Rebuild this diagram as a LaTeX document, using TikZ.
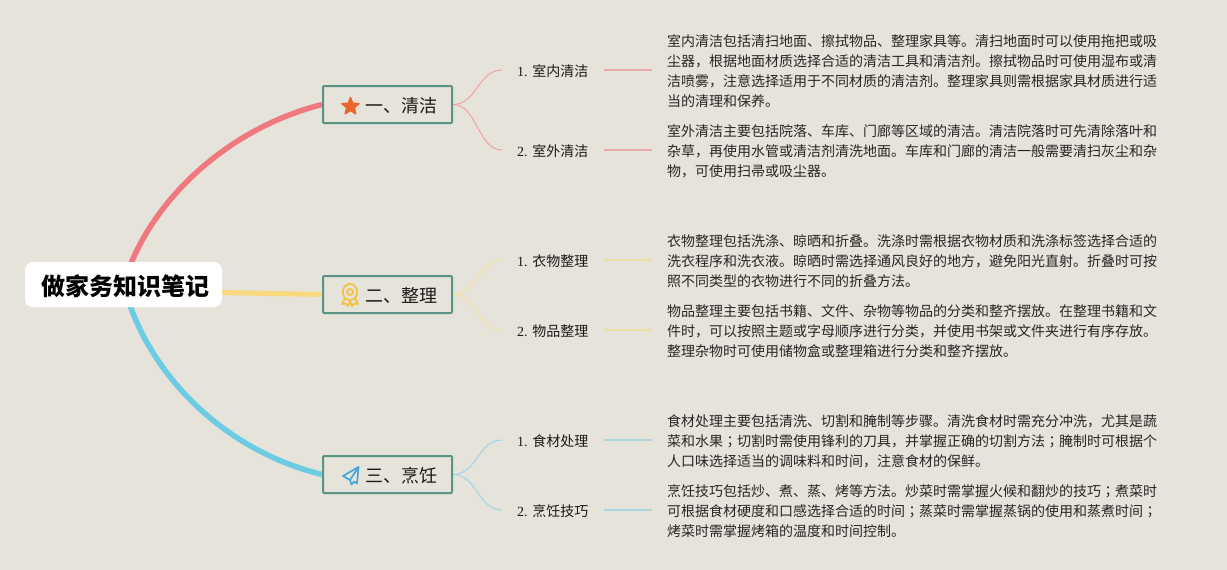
\documentclass[tikz,border=0pt]{standalone}
\usepackage{fontspec}
\setmainfont{Liberation Serif}
\newfontfamily\cjk{Noto Sans CJK SC}
\newfontfamily\cjktc{Noto Sans CJK TC}
\usetikzlibrary{shapes.geometric}
\definecolor{paper}{HTML}{E6E3DA}
\definecolor{teal}{HTML}{5A9485}
\definecolor{redb}{HTML}{F0797F}
\definecolor{yelb}{HTML}{FAD97E}
\definecolor{blub}{HTML}{6CCCE3}
\definecolor{redt}{HTML}{EFA0A3}
\definecolor{yelt}{HTML}{F7DFA0}
\definecolor{blut}{HTML}{9AD6E4}
\definecolor{reds}{HTML}{E9A9A9}
\definecolor{yels}{HTML}{F0DDA6}
\definecolor{blus}{HTML}{A8D5DE}
\definecolor{staro}{HTML}{E8652E}
\definecolor{medal}{HTML}{F4C142}
\definecolor{plane}{HTML}{45A5DB}
\pgfdeclarelayer{paperlayer}
\pgfdeclarelayer{edgelayer}
\pgfsetlayers{paperlayer,edgelayer,main}
\tikzset{
  rootbox/.style={fill=white,rounded corners=8pt,minimum width=197pt,minimum height=45pt,inner sep=0pt,font=\cjk\fontsize{24}{24}\selectfont\bfseries,text=black},
  topicbox/.style={draw=teal,line width=2pt,rounded corners=1pt,minimum width=129pt,minimum height=37pt,inner sep=0pt,font=\cjk\fontsize{18}{18}\selectfont,text=black!90},
  leaf/.style={inner sep=0pt,anchor=west,font=\fontsize{14}{14}\selectfont,text=black!90},
  body/.style={inner sep=0pt,anchor=west,align=left,font=\cjk\fontsize{14}{20}\selectfont,text=black!85},
  mainedge/.style={line width=5.5pt},
  twig/.style={line width=1pt},
  stub/.style={line width=1.3pt},
}
\newcommand{\leaftext}[2]{#1. {\cjk #2}}
\newcommand{\semic}{{\cjktc ；}}
\newcommand{\topictext}[1]{\hspace{27pt}\raisebox{-8.4pt}[0pt][0pt]{#1}}
\begin{document}
\begin{tikzpicture}[x=1pt,y=-1pt]
\useasboundingbox (0,0) rectangle (1227,570);
\begin{pgfonlayer}{paperlayer}
\fill[paper] (0,0) rectangle (1227,570);
\end{pgfonlayer}

\node[rootbox] (root) at (123.5,284.5) {\hspace{3pt}\raisebox{-11pt}[0pt][0pt]{做家务知识笔记}};
\node[topicbox] (t1) at (387.5,104.5) {\topictext{一、清洁}};
\node[topicbox] (t2) at (387.5,294.5) {\topictext{二、整理}};
\node[topicbox] (t3) at (387.5,474.5) {\topictext{三、烹饪}};

\node[leaf] (a1) at (517,71) {\leaftext{1}{室内清洁}};
\node[leaf] (a2) at (517,151) {\leaftext{2}{室外清洁}};
\node[leaf] (b1) at (517,261) {\leaftext{1}{衣物整理}};
\node[leaf] (b2) at (517,331) {\leaftext{2}{物品整理}};
\node[leaf] (c1) at (517,441) {\leaftext{1}{食材处理}};
\node[leaf] (c2) at (517,511) {\leaftext{2}{烹饪技巧}};

\node[body] (ta1) at (667,71.4) {室内清洁包括清扫地面、擦拭物品、整理家具等。清扫地面时可以使用拖把或吸\\尘器，根据地面材质选择合适的清洁工具和清洁剂。擦拭物品时可使用湿布或清\\洁喷雾，注意选择适用于不同材质的清洁剂。整理家具则需根据家具材质进行适\\当的清理和保养。};
\node[body] (ta2) at (667,151.4) {室外清洁主要包括院落、车库、门廊等区域的清洁。清洁院落时可先清除落叶和\\杂草，再使用水管或清洁剂清洗地面。车库和门廊的清洁一般需要清扫灰尘和杂\\物，可使用扫帚或吸尘器。};
\node[body] (tb1) at (667,261.4) {衣物整理包括洗涤、晾晒和折叠。洗涤时需根据衣物材质和洗涤标签选择合适的\\洗衣程序和洗衣液。晾晒时需选择通风良好的地方，避免阳光直射。折叠时可按\\照不同类型的衣物进行不同的折叠方法。};
\node[body] (tb2) at (667,331.4) {物品整理主要包括书籍、文件、杂物等物品的分类和整齐摆放。在整理书籍和文\\件时，可以按照主题或字母顺序进行分类，并使用书架或文件夹进行有序存放。\\整理杂物时可使用储物盒或整理箱进行分类和整齐摆放。};
\node[body] (tc1) at (667,441.4) {食材处理主要包括清洗、切割和腌制等步骤。清洗食材时需充分冲洗，尤其是蔬\\菜和水果\semic 切割时需使用锋利的刀具，并掌握正确的切割方法\semic 腌制时可根据个\\人口味选择适当的调味料和时间，注意食材的保鲜。};
\node[body] (tc2) at (667,511.4) {烹饪技巧包括炒、煮、蒸、烤等方法。炒菜时需掌握火候和翻炒的技巧\semic 煮菜时\\可根据食材硬度和口感选择合适的时间\semic 蒸菜时需掌握蒸锅的使用和蒸煮时间\semic \\烤菜时需掌握烤箱的温度和时间控制。};

\begin{pgfonlayer}{edgelayer}
\draw[mainedge,redb] (root.center) .. controls (146,207) and (222,130) .. (t1.west);
\draw[mainedge,yelb,line width=5pt] ([yshift=-8pt]root.east) -- (t2.west);
\draw[mainedge,blub] (root.center) .. controls (146,372) and (222,450) .. (t3.west);
\foreach \t/\l/\b/\c/\s in {t1/a1/ta1/redt/reds,t1/a2/ta2/redt/reds,t2/b1/tb1/yelt/yels,t2/b2/tb2/yelt/yels,t3/c1/tc1/blut/blus,t3/c2/tc2/blut/blus}{
  \draw[twig,\c] (\t.east) .. controls +(24,0) and +(-24,0) .. ([xshift=-15pt,yshift=1pt]\l.west);
  \draw[stub,\s] ([xshift=15pt,yshift=1pt]\l.east) -- ([xshift=-15pt,yshift=1pt]\l.east -| \b.west);
}
\end{pgfonlayer}

% icons
\node[star,star points=5,star point ratio=2.3,fill=staro,draw=staro,line join=round,line width=1.5pt,minimum size=18pt,inner sep=0pt] (i1) at ([xshift=-37pt,yshift=-2pt]t1.center) {};
\begin{scope}[shift={(350,295)},medal,line width=1.8pt,line join=round]
  \draw (0,-3) ellipse (7.2pt and 8pt);
  \draw (0,-3) circle (3pt);
  \draw (-5,3) -- (-8,9) -- (-4.5,8.5) -- (-2,11) -- (0,6) -- (2,11) -- (4.5,8.5) -- (8,9) -- (5,3);
\end{scope}
\begin{scope}[shift={(350,475)},plane,line width=1.7pt,line join=round]
  \draw (8.5,-8) -- (-7,1) -- (0,5) -- (1.5,9.5) -- (4,6.5) -- (7,8.5) -- cycle;
  \draw (8.5,-8) -- (0,5);
\end{scope}
\end{tikzpicture}
\end{document}
